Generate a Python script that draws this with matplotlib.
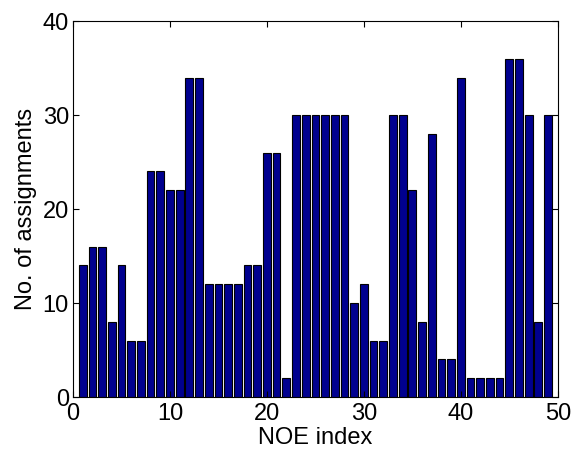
import numpy as np
import matplotlib
matplotlib.use("Agg")
import matplotlib.pyplot as plt

plt.rcParams['font.family'] = ['Liberation Sans', 'DejaVu Sans']

# number of assignments for each NOE index (1..49)
noe_index = np.arange(1, 50)
assignments = [14, 16, 16, 8, 14, 6, 6, 24, 24, 22,
               22, 34, 34, 12, 12, 12, 12, 14, 14, 26,
               26, 2, 30, 30, 30, 30, 30, 30, 10, 12,
               6, 6, 30, 30, 22, 8, 28, 4, 4, 34,
               2, 2, 2, 2, 36, 36, 30, 8, 30]

fig = plt.figure(figsize=(5.75, 4.59), dpi=100)
ax = fig.add_axes([0.127, 0.135, 0.843, 0.819])

ax.bar(noe_index, assignments, width=0.8, color='#00008f',
       edgecolor='black', linewidth=0.8)

ax.set_xlim(0, 50)
ax.set_ylim(0, 40)
ax.set_xticks([0, 10, 20, 30, 40, 50])
ax.set_yticks([0, 10, 20, 30, 40])
ax.tick_params(direction='in', top=True, right=True, labelsize=17, length=4)
ax.tick_params(axis='x', pad=4)
ax.tick_params(axis='y', pad=3)
ax.set_xlabel('NOE index', fontsize=17, labelpad=2)
ax.set_ylabel('No. of assignments', fontsize=17, labelpad=4)

fig.savefig('out.png', dpi=100)
